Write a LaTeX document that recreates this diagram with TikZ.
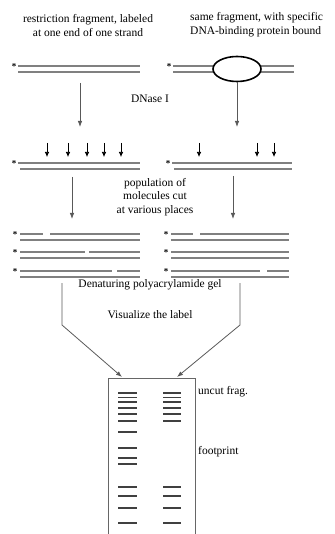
\documentclass[tikz,border=0pt]{standalone}
\usepackage{fontspec}
\setmainfont{Liberation Serif}
\usetikzlibrary{arrows.meta,shapes.geometric}
\begin{document}
\begin{tikzpicture}[x=1pt,y=-1pt,
  strand/.style={draw=black!50, line width=1.4pt},
  arr/.style={draw=black!65, line width=0.8pt, -{Latex[length=6pt,width=4.5pt]}},
  cutarr/.style={draw=black, line width=0.7pt, -{Latex[length=5pt,width=4.5pt]}},
  lbl/.style={font=\fontsize{11.5}{14}\selectfont, inner sep=0pt},
  endlbl/.style={font=\bfseries\fontsize{9}{9}\selectfont, inner sep=0pt},
  band/.style={draw=black!75, line width=1.3pt},
  gelbox/.style={draw=black!60, line width=0.9pt},
]
\useasboundingbox (0,0) rectangle (334,534);

% ---- titles
\node[lbl, align=center] (t1) at (88,25.5) {restriction fragment, labeled\\at one end of one strand};
\node[lbl, align=left, anchor=west] (t2) at (190,25) {same fragment, with specific\\DNA-binding protein bound};

% ---- row 1 left
\draw[strand] (18,66) -- (140,66);
\draw[strand] (18,72) -- (140,72);
\node[endlbl] (m1) at (14,67) {*};
% ---- row 1 right
\draw[strand] (173,66) -- (294,66);
\draw[strand] (173,72) -- (294,72);
\node[endlbl] (m2) at (169,67) {*};
\node[draw=black, line width=1.6pt, fill=white, ellipse, minimum width=48pt, minimum height=25pt, inner sep=0pt] (prot) at (237,69) {};

\node[lbl] (dnase) at (150,99) {DNase I};

\coordinate (l1) at (80,83);
\coordinate (l2) at (80,127);
\draw[arr] (l1) -- (l2);
\coordinate (r2) at (236,127);
\draw[arr] (prot.south) -- (r2 -| prot.south);

% ---- row 2 cut arrows
\foreach \x in {47,68,87,104,121}{
  \coordinate (ca) at (\x,143); \coordinate (cb) at (\x,157);
  \draw[cutarr] (ca) -- (cb);
}
\foreach \x in {199,257,274}{
  \coordinate (ca) at (\x,143); \coordinate (cb) at (\x,157);
  \draw[cutarr] (ca) -- (cb);
}
% ---- row 2 strands
\draw[strand] (18,163) -- (140,163);
\draw[strand] (20,169) -- (140,169);
\node[endlbl] (m3) at (14,164) {*};
\draw[strand] (172,163) -- (292,163);
\draw[strand] (174,169) -- (292,169);
\node[endlbl] (m4) at (168,164) {*};

\node[lbl, align=center, font=\fontsize{11.5}{13.5}\selectfont] (pop) at (155,197) {population of\\molecules cut\\at various places};

\coordinate (l3) at (72,177);
\coordinate (l4) at (72,219);
\draw[arr] (l3) -- (l4);
\coordinate (r3) at (233,176);
\coordinate (r4) at (233,219);
\draw[arr] (r3) -- (r4);

% ---- row 3 left
\draw[strand] (20,234) -- (43,234);
\draw[strand] (50,234) -- (140,234);
\draw[strand] (20,240) -- (140,240);
\node[endlbl] (m5) at (15,235) {*};
\draw[strand] (20,252) -- (85,252);
\draw[strand] (89,252) -- (140,252);
\draw[strand] (20,258) -- (140,258);
\node[endlbl] (m6) at (15,253) {*};
\draw[strand] (20,271) -- (112,271);
\draw[strand] (117,271) -- (140,271);
\draw[strand] (20,277) -- (140,277);
\node[endlbl] (m7) at (15,272) {*};
% ---- row 3 right
\draw[strand] (171,234) -- (193,234);
\draw[strand] (200,234) -- (289,234);
\draw[strand] (171,240) -- (289,240);
\node[endlbl] (m8) at (166,235) {*};
\draw[strand] (171,252) -- (289,252);
\draw[strand] (171,258) -- (289,258);
\node[endlbl] (m9) at (166,253) {*};
\draw[strand] (171,271) -- (260,271);
\draw[strand] (267,271) -- (289,271);
\draw[strand] (171,277) -- (289,277);
\node[endlbl] (m10) at (166,272) {*};

\node[lbl] (den) at (150,285) {Denaturing polyacrylamide gel};
\node[lbl] (vis) at (150,315) {Visualize the label};

% ---- gel
\coordinate (gbl) at (108,534);
\coordinate (gtl) at (108,378);
\coordinate (gtr) at (195,378);
\coordinate (gbr) at (195,534);
\draw[gelbox] (gbl) -- (gtl) -- (gtr) -- (gbr);

\coordinate (fl1) at (62,283);
\coordinate (fl2) at (62,325);
\coordinate (fl3) at (122,377);
\draw[arr] (fl1) -- (fl2) -- (fl3);
\coordinate (fr1) at (240,283);
\coordinate (fr2) at (240,325);
\coordinate (fr3) at (177,377);
\draw[arr] (fr1) -- (fr2) -- (fr3);

% bands
\foreach \y/\w in {393/2.2,397.5/1.3,402/1.3,408/1.2,414/1.2,421/1.7}{
  \draw[band, line width=\w pt] (118,\y) -- (137,\y);
  \draw[band, line width=\w pt] (163,\y) -- (181,\y);
}
\foreach \y in {432,448,458,464}{
  \draw[band, line width=1.1pt] (118,\y) -- (137,\y);
}
\foreach \y in {487,496,508,523}{
  \draw[band, line width=1.2pt] (118,\y) -- (137,\y);
  \draw[band, line width=1.2pt] (163,\y) -- (181,\y);
}

\node[lbl, anchor=west] (unc) at (198,392) {uncut frag.};
\node[lbl, anchor=west] (fp) at (198,452) {footprint};
\end{tikzpicture}
\end{document}
